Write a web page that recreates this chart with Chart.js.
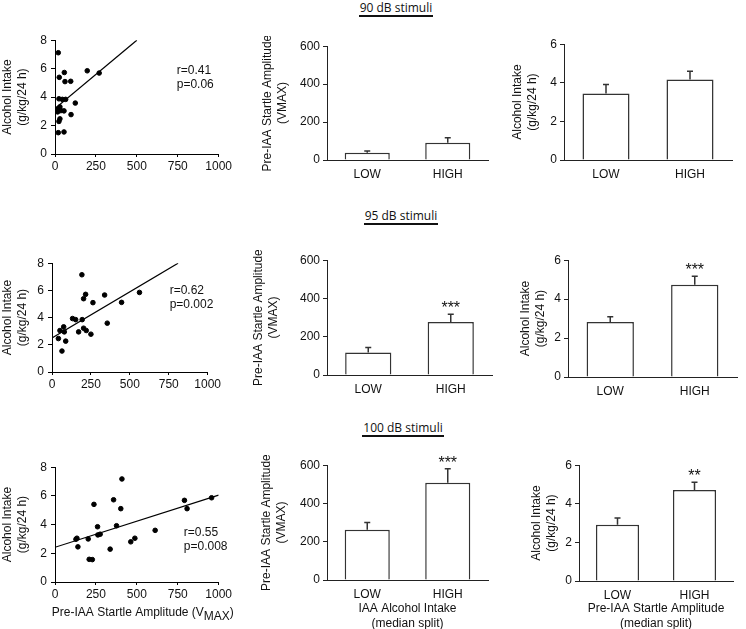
<!DOCTYPE html>
<html>
<head>
<meta charset="utf-8">
<title>Startle amplitude and alcohol intake</title>
<script src="https://cdn.jsdelivr.net/npm/chart.js"></script>
<style>
  body { margin: 0; width: 746px; height: 629px; overflow: hidden; background: #fff; position: relative; }
  canvas { position: absolute; }
  .stim { position: absolute; width: 120px; text-align: center; font-family: 'Open Sans', sans-serif; font-size: 12px; line-height: 14px; color: #111; }
  .stim span { display: inline-block; padding: 0 1px 0; border-bottom: 2px solid #111; }
</style>
</head>
<body>
<div class="stim" style="left:336px; top:1px"><span>90 dB stimuli</span></div>
<div class="stim" style="left:341px; top:209px"><span>95 dB stimuli</span></div>
<div class="stim" style="left:343px; top:421px"><span>100 dB stimuli</span></div>

<canvas id="a"></canvas><canvas id="b"></canvas><canvas id="c"></canvas>
<canvas id="d"></canvas><canvas id="e"></canvas><canvas id="f"></canvas>
<canvas id="g"></canvas><canvas id="h"></canvas><canvas id="i"></canvas>

<script>
  // scatter data: pre-IAA startle amplitude (Vmax) vs alcohol intake (g/kg/24 h)
  const startle90 = [20, 26, 57, 61, 96, 197, 270, 24, 45, 65, 124, 30, 20, 55, 16, 98, 30, 24, 20, 55, 36];
  const intake90  = [7.12, 5.39, 5.73, 5.09, 5.11, 5.85, 5.69, 3.88, 3.84, 3.84, 3.58, 3.31, 3.19, 3.03, 2.96, 2.77, 2.47, 2.29, 1.50, 1.55, 3.05];
  const fitX90 = [0, 500];
  const fitY90 = [3.2, 8.0];

  const startle95 = [192, 203, 216, 263, 338, 447, 562, 132, 152, 194, 355, 41, 51, 64, 75, 79, 88, 171, 203, 220, 250];
  const intake95  = [7.15, 5.39, 5.71, 5.10, 5.66, 5.12, 5.85, 3.93, 3.85, 3.85, 3.59, 2.46, 3.05, 1.54, 3.32, 2.95, 2.27, 2.95, 3.22, 3.05, 2.78];
  const fitX95 = [0, 810];
  const fitY95 = [2.5, 8.0];

  const startle100 = [409, 238, 358, 402, 791, 807, 957, 260, 376, 612, 262, 276, 128, 134, 203, 488, 463, 140, 337, 209, 228];
  const intake100  = [7.18, 5.41, 5.73, 5.11, 5.69, 5.11, 5.87, 3.85, 3.92, 3.60, 3.28, 3.33, 2.98, 3.05, 3.00, 3.05, 2.80, 2.45, 2.29, 1.58, 1.56];
  const fitX100 = [0, 1000];
  const fitY100 = [2.42, 6.05];

  // median split groups
  const groups = ['LOW', 'HIGH'];
  const startleMean90 = [38, 91];
  const startleSem90 = [9, 26];
  const intakeMean90 = [3.45, 4.17];
  const intakeSem90 = [0.46, 0.43];
  const startleMean95 = [117, 277];
  const startleSem95 = [27, 40];
  const intakeMean95 = [2.82, 4.74];
  const intakeSem95 = [0.27, 0.43];
  const startleMean100 = [263, 508];
  const startleSem100 = [38, 73];
  const intakeMean100 = [2.92, 4.71];
  const intakeSem100 = [0.35, 0.41];
  const stars90 = ['', ''];
  const stars95 = ['', '***'];
  const stars95b = ['', '***'];
  const stars100 = ['', '***'];
  const stars100b = ['', '**'];

  const FONT = "'Liberation Sans', Arial, sans-serif";
  Chart.defaults.font.family = FONT;
  Chart.defaults.color = '#111';

  // r / p text next to the regression line
  const statPlugin = {
    id: 'stat',
    afterDatasetsDraw(chart, args, opts) {
      if (!opts.lines) return;
      const {ctx, scales: {x, y}} = chart;
      ctx.save();
      ctx.font = '12px ' + FONT;
      ctx.fillStyle = '#111';
      ctx.textAlign = 'left';
      ctx.textBaseline = 'middle';
      opts.lines.forEach((t, i) => ctx.fillText(t, x.getPixelForValue(opts.x), y.getPixelForValue(opts.y) + i * 14));
      ctx.restore();
    }
  };

  // x title with a subscript part
  const subTitlePlugin = {
    id: 'subTitle',
    afterDraw(chart, args, opts) {
      if (!opts.main) return;
      const {ctx, chartArea} = chart;
      ctx.save();
      ctx.font = '12px ' + FONT;
      ctx.fillStyle = '#111';
      ctx.textBaseline = 'middle';
      ctx.textAlign = 'left';
      const w1 = ctx.measureText(opts.main).width;
      const w2 = ctx.measureText(opts.sub).width;
      const w3 = ctx.measureText(opts.tail).width;
      let x = (chartArea.left + chartArea.right) / 2 - (w1 + w2 + w3) / 2 + 6;
      const y = chartArea.bottom + 31;
      ctx.fillText(opts.main, x, y); x += w1;
      ctx.fillText(opts.sub, x, y + 4); x += w2;
      ctx.fillText(opts.tail, x, y);
      ctx.restore();
    }
  };

  // SEM bars and significance stars
  const errPlugin = {
    id: 'errbars',
    afterDatasetsDraw(chart, args, opts) {
      if (!opts.sem) return;
      const {ctx} = chart;
      const y = chart.scales.y;
      const means = chart.data.datasets[0].data;
      ctx.save();
      ctx.strokeStyle = '#333';
      ctx.lineWidth = 1.5;
      chart.getDatasetMeta(0).data.forEach((bar, i) => {
        const top = y.getPixelForValue(means[i] + opts.sem[i]);
        ctx.beginPath();
        ctx.moveTo(bar.x, bar.y);
        ctx.lineTo(bar.x, top);
        ctx.moveTo(bar.x - 3, top);
        ctx.lineTo(bar.x + 3, top);
        ctx.stroke();
        if (opts.stars[i]) {
          ctx.font = '16px ' + FONT;
          ctx.fillStyle = '#111';
          ctx.textAlign = 'center';
          ctx.textBaseline = 'alphabetic';
          ctx.fillText(opts.stars[i], bar.x, top - 1);
        }
      });
      ctx.restore();
    }
  };

  function place(id, pane) {
    const cv = document.getElementById(id);
    cv.width = pane.w;
    cv.height = pane.h;
    cv.style.left = pane.left + 'px';
    cv.style.top = pane.top + 'px';
    return cv;
  }

  function yTitle(text) {
    return { display: true, text: text, padding: 0, font: { size: 12, lineHeight: 1.25 } };
  }

  const plain = v => String(v);

  function scatterChart(id, pane, xs, ys, fitX, fitY, stat, sub) {
    new Chart(place(id, pane), {
      type: 'scatter',
      data: {
        datasets: [
          {
            data: xs.map((x, i) => ({ x: x, y: ys[i] })),
            backgroundColor: '#000',
            borderColor: '#000',
            pointRadius: 2.3
          },
          {
            type: 'line',
            data: fitX.map((x, i) => ({ x: x, y: fitY[i] })),
            borderColor: '#000',
            borderWidth: 1.2,
            pointRadius: 0,
            fill: false
          }
        ]
      },
      options: {
        responsive: false,
        animation: false,
        events: [],
        layout: { padding: pane.pad },
        plugins: { legend: { display: false }, tooltip: { enabled: false }, stat: stat, subTitle: sub || {} },
        scales: {
          x: {
            type: 'linear', min: 0, max: 1000,
            afterFit: s => { s.height = pane.xH; },
            ticks: { stepSize: 250, padding: 2, maxRotation: 0, font: { size: 12 }, callback: plain },
            grid: { drawOnChartArea: false, tickLength: 3, color: '#000' },
            border: { color: '#000' }
          },
          y: {
            min: 0, max: 8,
            afterFit: s => { s.width = pane.yW; },
            ticks: { stepSize: 2, padding: 4, font: { size: 12 }, callback: plain },
            grid: { drawOnChartArea: false, tickLength: 4, color: '#000' },
            border: { color: '#000' },
            title: yTitle(['Alcohol Intake', '(g/kg/24 h)'])
          }
        }
      },
      plugins: [statPlugin, subTitlePlugin]
    });
  }

  function barChart(id, pane, means, sems, stars, yMax, yText, xText) {
    new Chart(place(id, pane), {
      type: 'bar',
      data: {
        labels: groups,
        datasets: [{
          data: means,
          backgroundColor: '#fff',
          borderColor: '#333',
          borderWidth: 1.5,
          categoryPercentage: 1,
          barPercentage: 0.56
        }]
      },
      options: {
        responsive: false,
        animation: false,
        events: [],
        layout: { padding: pane.pad },
        plugins: { legend: { display: false }, tooltip: { enabled: false }, errbars: { sem: sems, stars: stars } },
        scales: {
          x: {
            afterFit: s => { s.height = pane.xH; },
            ticks: { padding: 3, font: { size: 12 } },
            grid: { display: false, tickLength: 4 },
            border: { color: '#222' },
            title: xText ? { display: true, text: xText, padding: 0, font: { size: 12, lineHeight: 1.25 } } : { display: false }
          },
          y: {
            min: 0, max: yMax,
            afterFit: s => { s.width = pane.yW; },
            ticks: { stepSize: yMax / 3, padding: 3, font: { size: 12 }, callback: plain },
            grid: { drawOnChartArea: false, tickLength: 4, color: '#222' },
            border: { color: '#222' },
            title: yTitle(yText)
          }
        }
      },
      plugins: [errPlugin]
    });
  }

  const startleTitle = ['Pre-IAA Startle Amplitude', '(VMAX)'];
  const intakeTitle = ['Alcohol Intake', '(g/kg/24 h)'];

  scatterChart('a', { left: 0, top: 29, w: 234, h: 145, yW: 55, xH: 20, pad: { left: 0, right: 15, top: 10, bottom: 0 } },
    startle90, intake90, fitX90, fitY90, { x: 744, y: 5.83, lines: ['r=0.41', 'p=0.06'] });
  barChart('b', { left: 260, top: 36, w: 233, h: 149, yW: 67, xH: 25, pad: { left: 0, right: 5, top: 10, bottom: 0 } },
    startleMean90, startleSem90, stars90, 600, startleTitle);
  barChart('c', { left: 510, top: 34, w: 227, h: 151, yW: 54, xH: 25, pad: { left: 0, right: 5, top: 10, bottom: 0 } },
    intakeMean90, intakeSem90, stars90, 6, intakeTitle);

  scatterChart('d', { left: 0, top: 252, w: 223, h: 140, yW: 52, xH: 20, pad: { left: 0, right: 15, top: 10, bottom: 0 } },
    startle95, intake95, fitX95, fitY95, { x: 756, y: 5.96, lines: ['r=0.62', 'p=0.002'] });
  barChart('e', { left: 251, top: 250, w: 246, h: 150, yW: 76, xH: 25, pad: { left: 0, right: 5, top: 10, bottom: 0 } },
    startleMean95, startleSem95, stars95, 600, startleTitle);
  barChart('f', { left: 518, top: 250, w: 224, h: 152, yW: 50, xH: 25, pad: { left: 0, right: 5, top: 10, bottom: 0 } },
    intakeMean95, intakeSem95, stars95b, 6, intakeTitle);

  scatterChart('g', { left: 0, top: 456, w: 234, h: 171, yW: 55, xH: 45, pad: { left: 0, right: 15, top: 10, bottom: 0 } },
    startle100, intake100, fitX100, fitY100, { x: 787, y: 3.45, lines: ['r=0.55', 'p=0.008'] },
    { main: 'Pre-IAA Startle Amplitude (V', sub: 'MAX', tail: ')' });
  barChart('h', { left: 259, top: 455, w: 234, h: 176, yW: 68, xH: 51, pad: { left: 0, right: 5, top: 10, bottom: 0 } },
    startleMean100, startleSem100, stars100, 600, startleTitle, ['IAA Alcohol Intake', '(median split)']);
  barChart('i', { left: 529, top: 455, w: 209, h: 176, yW: 50, xH: 50, pad: { left: 0, right: 5, top: 10, bottom: 0 } },
    intakeMean100, intakeSem100, stars100b, 6, intakeTitle, ['Pre-IAA Startle Amplitude', '(median split)']);
</script>
</body>
</html>
